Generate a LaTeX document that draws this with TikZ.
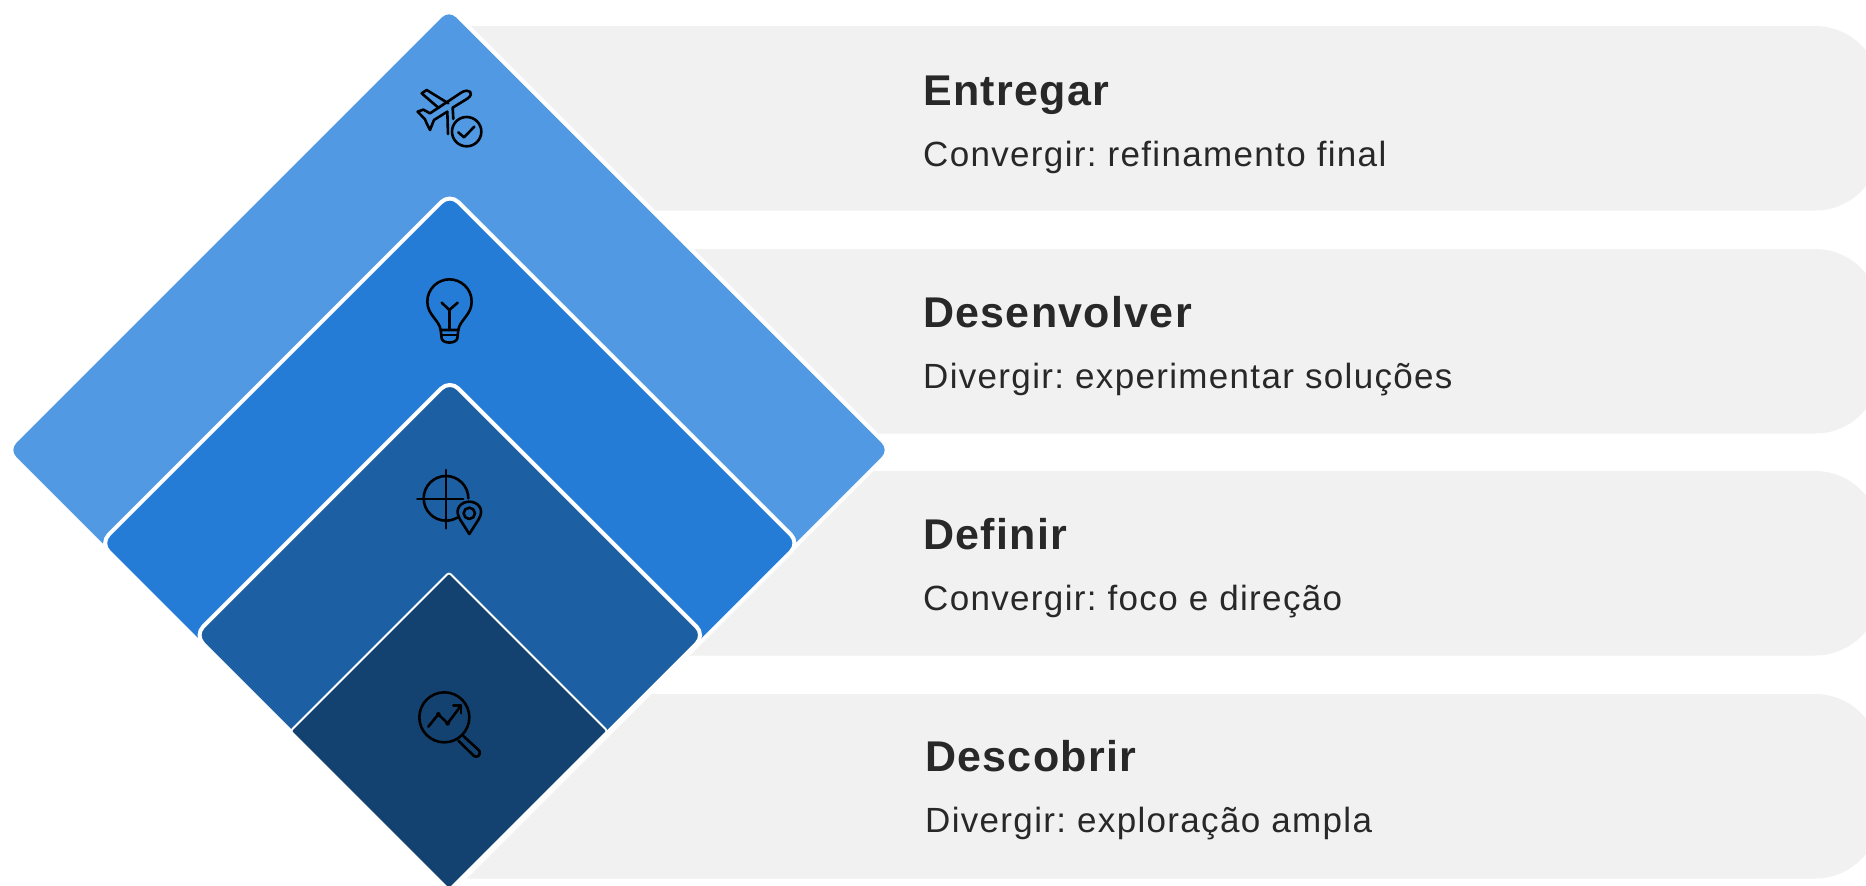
\documentclass[tikz,border=0pt]{standalone}
\usepackage{fontspec}
\setmainfont{Liberation Sans}
\newfontfamily\subfam[LetterSpace=3.8]{Liberation Sans}
\newfontfamily\ttlfam[LetterSpace=3]{Liberation Sans}
\definecolor{barc}{HTML}{F1F1F1}
\definecolor{d1c}{HTML}{5199E2}
\definecolor{d2c}{HTML}{247CD6}
\definecolor{d3c}{HTML}{1C5FA3}
\definecolor{d4c}{HTML}{144270}
\definecolor{txtc}{HTML}{282828}
\tikzset{
  bar/.style={fill=barc,draw=none},
  dia/.style={draw=white,line width=4pt,line join=round,rounded corners=12pt},
  ico/.style={draw=black,line width=2.6pt,line cap=round,line join=round},
  ttl/.style={anchor=base west,inner sep=0pt,text=txtc,font=\fontsize{43}{46}\selectfont\ttlfam\bfseries},
  sub/.style={anchor=base west,inner sep=0pt,text=txtc,font=\fontsize{35}{38}\selectfont\subfam},
}
\frenchspacing
\begin{document}
\begin{tikzpicture}[x=1pt,y=-1pt]
\useasboundingbox (0,0) rectangle (1866,886);
\begin{scope}
\clip (0,0) rectangle (1866,886);
\fill[white] (0,0) rectangle (1866,886);
% bars
\foreach \t in {26,249,471,694}{
  \path[bar] (449,\t) [rounded corners=65pt] -- (1880,\t) -- (1880,\t+184.5) [sharp corners] -- (449,\t+184.5) -- cycle;
}
% diamonds
\path[dia,fill=d1c] (449,7.3) -- (891.7,450) -- (449,892.7) -- (6.3,450) -- cycle;
\path[dia,fill=d2c] (449.8,193.6) -- (799.4,543.2) -- (449.8,892.8) -- (100.2,543.2) -- cycle;
\path[dia,fill=d3c] (449.8,380) -- (705,635.2) -- (449.8,890.4) -- (194.6,635.2) -- cycle;
\path[draw=white,line width=1.8pt,line join=round,fill=d4c,rounded corners=2.5pt] (449,572.5) -- (607.5,731) -- (449,889.5) -- (290.5,731) -- cycle;
% plane
\begin{scope}[shift={(380,60)},x=0.3333pt,y=-0.3333pt]
\draw[ico] (113,155) -- (130,149) -- (150,160) -- (245,97) .. controls (268,84) and (285,100) .. (262,116) -- (218,143) -- (220,177);
\draw[ico] (175,143) -- (125,100) -- (140,90) -- (205,130);
\draw[ico] (202,155) -- (204,222);
\draw[ico] (202,155) -- (162,180) -- (150,210) -- (140,190) -- (135,178) -- (113,155);
\draw[ico] (260,215) circle (44);
\draw[ico] (235,217) -- (252,232) -- (283,200);
\end{scope}
% bulb
\begin{scope}[shift={(400,260)},x=0.3333pt,y=-0.3333pt]
\draw[ico] (122,210) .. controls (118,180) and (82,165) .. (82,125) .. controls (82,85) and (115,58) .. (148,58) .. controls (182,58) and (215,85) .. (215,125) .. controls (215,165) and (179,180) .. (175,210) -- cycle;
\draw[ico] (125,128) -- (148,150) -- (173,128);
\draw[ico] (148,150) -- (148,210);
\draw[ico] (125,225) -- (172,225);
\draw[ico] (122,210) -- (125,235) .. controls (128,252) and (168,252) .. (172,235) -- (175,210);
\end{scope}
% target
\begin{scope}[shift={(400,460)},x=0.3333pt,y=-0.3333pt]
\draw[ico] (205,115) arc[start angle=0,end angle=-300,radius=67];
\draw[ico] (138,30) -- (138,205);
\draw[ico] (52,117) -- (190,117);
\draw[ico] (208,222) -- (180,178) .. controls (160,145) and (185,125) .. (208,125) .. controls (231,125) and (256,145) .. (236,178) -- cycle;
\draw[ico] (208,160) circle (17);
\end{scope}
% magnifier
\begin{scope}[shift={(400,680)},x=0.3333pt,y=-0.3333pt]
\draw[ico] (133,112) circle (75);
\draw[ico] (85,140) -- (115,103) -- (143,130) -- (183,77);
\draw[ico] (160,77) -- (183,77) -- (183,100);
\fill (115,103) circle (7);
\fill (143,130) circle (7);
\draw[ico] (190,168) -- (238,212) .. controls (245,225) and (230,235) .. (222,228) -- (175,182);
\end{scope}
\end{scope}
% labels
\node[ttl] (t1) at (923,105) {Entregar};
\node[sub] (s1) at (923,166) {Convergir: refinamento final};
\node[ttl] (t2) at (923,327) {Desenvolver};
\node[sub] (s2) at (923,388) {Divergir: experimentar soluções};
\node[ttl] (t3) at (923,549) {Definir};
\node[sub] (s3) at (923,610) {Convergir: foco e direção};
\node[ttl] (t4) at (925,771) {Descobrir};
\node[sub] (s4) at (925,832) {Divergir: exploração ampla};
\end{tikzpicture}
\end{document}
